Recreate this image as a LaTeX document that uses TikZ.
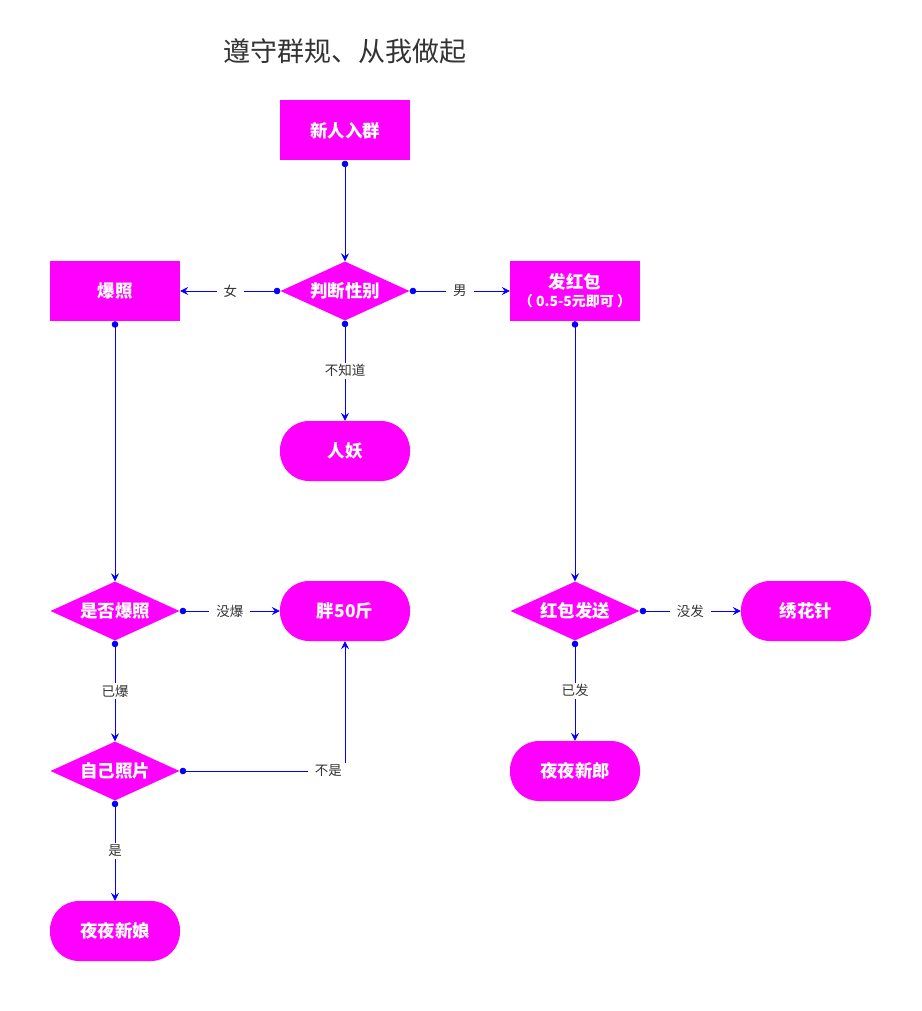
\documentclass[tikz,border=0pt]{standalone}
\usepackage{fontspec}
\setmainfont{Noto Sans CJK SC}
\usetikzlibrary{shapes.geometric,arrows.meta}
\definecolor{mag}{HTML}{FF00FF}
\definecolor{lnk}{HTML}{0000FF}
\definecolor{txt}{HTML}{333333}
\begin{document}
\begin{tikzpicture}[x=1pt,y=-1pt,
 base/.style={fill=mag,draw=none,text=white,font=\fontsize{17.5}{20}\selectfont\bfseries,inner sep=0pt,align=center},
 rectbox/.style={base,rectangle,minimum width=130pt,minimum height=60pt},
 roundbox/.style={rectbox,rounded corners=29pt},
 decision/.style={base,diamond,aspect=2.2,minimum width=129pt,minimum height=59pt},
 conn/.style={draw=lnk,line width=0.8pt,{Circle[length=6.5pt]}-{Stealth[length=8pt,width=8pt,inset=3pt]}},
 lbl/.style={fill=white,text=txt,font=\fontsize{13.5}{15}\selectfont,inner xsep=7pt,inner ysep=2pt}]
\useasboundingbox (0,0) rectangle (921,1011);
\node[text=txt,font=\fontsize{27}{30}\selectfont] (title) at (344.5,51) {遵守群规、从我做起};

\node[rectbox] (start) at (345,130.5) {新人入群};
\node[decision] (sex) at (345,291) {判断性别};
\node[rectbox] (photo) at (115,291) {爆照};
\node[rectbox] (red) at (575,291) {发红包\\[-2pt]{\fontsize{14}{16}\selectfont （ 0.5-5元即可 ）}};
\node[roundbox] (yao) at (345,451) {人妖};
\node[decision] (posted) at (115,611) {是否爆照};
\node[roundbox] (fat) at (345,611) {胖50斤};
\node[decision] (sent) at (575,611) {红包发送};
\node[roundbox] (needle) at (806,611) {绣花针};
\node[decision] (self) at (115,771) {自己照片};
\node[roundbox] (groom) at (575,771) {夜夜新郎};
\node[roundbox] (bride) at (115,931) {夜夜新娘};

\draw[conn] (start.south) -- (sex.north);
\draw[conn] (sex.west) -- node[lbl] (l1) {女} (photo.east);
\draw[conn] (sex.east) -- node[lbl] (l2) {男} (red.west);
\draw[conn] (sex.south) -- node[lbl] (l3) {不知道} (yao.north);
\draw[conn] (photo.south) -- (posted.north);
\draw[conn] (red.south) -- (sent.north);
\draw[conn] (posted.east) -- node[lbl] (l4) {没爆} (fat.west);
\draw[conn] (posted.south) -- node[lbl] (l5) {已爆} (self.north);
\draw[conn] (self.east) -| node[lbl,pos=0.45] (l6) {不是} (fat.south);
\draw[conn] (self.south) -- node[lbl] (l7) {是} (bride.north);
\draw[conn] (sent.east) -- node[lbl] (l8) {没发} (needle.west);
\draw[conn] (sent.south) -- node[lbl] (l9) {已发} (groom.north);
\end{tikzpicture}
\end{document}
